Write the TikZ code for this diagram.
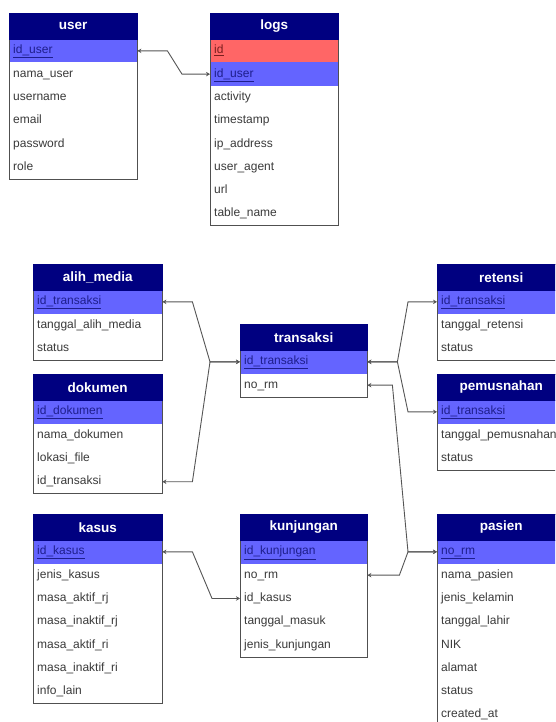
\documentclass[tikz,border=0pt]{standalone}
\usepackage{fontspec}
\setmainfont{Liberation Sans}
\usetikzlibrary{arrows.meta,calc}
\definecolor{hdr}{HTML}{000080}
\definecolor{keyc}{HTML}{6464FF}
\definecolor{redc}{HTML}{FF6666}
\definecolor{rowtxt}{HTML}{3A3A3A}
\definecolor{keytxt}{HTML}{1E1E8C}
\definecolor{redtxt}{HTML}{7A1E1E}
\definecolor{bordc}{HTML}{505050}
\definecolor{linec}{HTML}{555555}
\newcommand\hdrfont{\fontsize{13.5}{15}\selectfont\bfseries}
\newcommand\rowfont{\fontsize{12}{14}\selectfont}
\newcommand\K[1]{\textcolor{keytxt}{\underline{#1}}}
\newcommand\Rd[1]{\textcolor{redtxt}{\underline{#1}}}
\tikzset{
  hdrbox/.style={draw=hdr, fill=hdr, text=white, font=\hdrfont, minimum height=26pt, inner sep=0pt, anchor=north west, align=center},
  rowbox/.style={draw=none, inner xsep=4pt, inner ysep=0pt, minimum height=23.3pt, text height=9pt, text depth=3pt, anchor=north west, align=left, font=\rowfont, text=rowtxt},
  tborder/.style={draw=bordc, line width=0.8pt},
  conn/.style={draw=linec, line width=0.9pt, {Stealth[length=4pt,width=4.5pt]}-{Stealth[length=4pt,width=4.5pt]}},
}
% #1 name, #2 x, #3 y, #4 width, #5 title, #6 nrows, #7 rows
\newcommand\ertable[7]{%
  \pgfmathsetmacro\ertw{#4-8}%
  \node[hdrbox, minimum width=#4pt] (#1-h) at ({#2},{#3}) {#5};
  \foreach \fc/\tx [count=\i] in {#7} {
    \node[rowbox, fill=\fc, minimum width=#4pt, text width=\ertw pt] (#1-\i) at ({#2},{#3+26+(\i-1)*23.3}) {\tx};
  }
  \draw[tborder] (#1-h.north west) rectangle (#1-#6.south east);
  \draw[draw=hdr, line width=0.8pt] (#1-h.north west) rectangle (#1-h.south east);
}
\begin{document}
\begin{tikzpicture}[x=1pt,y=-1pt]
\clip (0,0) rectangle (555,722);
\fill[white] (0,0) rectangle (555,722);

\ertable{user}{9}{13}{128}{user}{6}{keyc/\K{id\_user}, white/nama\_user, white/username, white/email, white/password, white/role}
\ertable{logs}{210}{13}{128}{logs}{8}{redc/\Rd{id}, keyc/\K{id\_user}, white/activity, white/timestamp, white/ip\_address, white/user\_agent, white/url, white/table\_name}
\ertable{alih}{33}{264}{129}{alih\_media}{3}{keyc/\K{id\_transaksi}, white/tanggal\_alih\_media, white/status}
\ertable{dok}{33}{374}{129}{dokumen}{4}{keyc/\K{id\_dokumen}, white/nama\_dokumen, white/lokasi\_file, white/id\_transaksi}
\ertable{trx}{240}{324}{127}{transaksi}{2}{keyc/\K{id\_transaksi}, white/no\_rm}
\ertable{ret}{437}{264}{128}{retensi}{3}{keyc/\K{id\_transaksi}, white/tanggal\_retensi, white/status}
\ertable{pem}{437}{374}{128}{pemusnahan}{3}{keyc/\K{id\_transaksi}, white/tanggal\_pemusnahan, white/status}
\ertable{kasus}{33}{514}{129}{kasus}{7}{keyc/\K{id\_kasus}, white/jenis\_kasus, white/masa\_aktif\_rj, white/masa\_inaktif\_rj, white/masa\_aktif\_ri, white/masa\_inaktif\_ri, white/info\_lain}
\ertable{kunj}{240}{514}{127}{kunjungan}{5}{keyc/\K{id\_kunjungan}, white/no\_rm, white/id\_kasus, white/tanggal\_masuk, white/jenis\_kunjungan}
\ertable{pas}{437}{514}{128}{pasien}{8}{keyc/\K{no\_rm}, white/nama\_pasien, white/jenis\_kelamin, white/tanggal\_lahir, white/NIK, white/alamat, white/status, white/created\_at}

\draw[conn] (user-1.east) -- ++(30,0) -- ([xshift=-28pt]logs-2.west) -- (logs-2.west);
\draw[conn] (alih-1.east) -- ++(30,0) -- ([xshift=-30pt]trx-1.west) -- (trx-1.west);
\draw[conn] (dok-4.east) -- ++(30,0) -- ([xshift=-30pt]trx-1.west) -- (trx-1.west);
\draw[conn] (trx-1.east) -- ++(30,0) -- ([xshift=-29pt]ret-1.west) -- (ret-1.west);
\draw[conn] (trx-1.east) -- ++(30,0) -- ([xshift=-29pt]pem-1.west) -- (pem-1.west);
\draw[conn] (trx-2.east) -- ++(25,0) -- ([xshift=-29pt]pas-1.west) -- (pas-1.west);
\draw[conn] (kunj-2.east) -- ++(32,0) -- ([xshift=-29pt]pas-1.west) -- (pas-1.west);
\draw[conn] (kasus-1.east) -- ++(30,0) -- ([xshift=-28pt]kunj-3.west) -- (kunj-3.west);
\end{tikzpicture}
\end{document}
